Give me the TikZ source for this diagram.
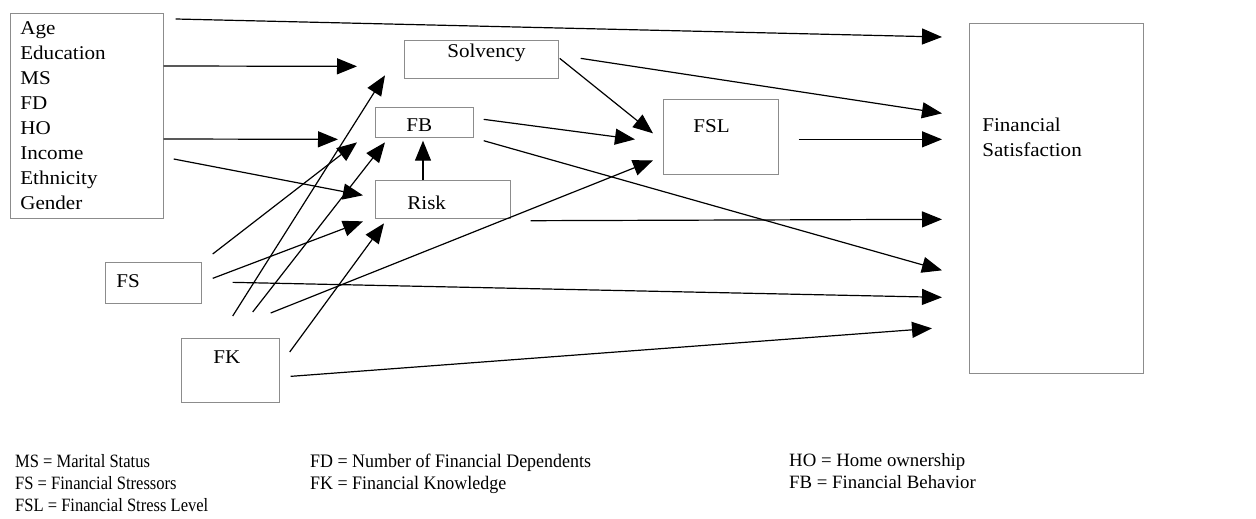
\documentclass[tikz,border=0pt]{standalone}
\usepackage{fontspec}
\setmainfont{Liberation Serif}
\newfontfamily\boxfont[FakeStretch=1.08]{Liberation Serif}
\newfontfamily\legfontA[FakeStretch=0.88]{Liberation Serif}
\newfontfamily\legfontB[FakeStretch=0.94]{Liberation Serif}
\usetikzlibrary{arrows.meta}
\begin{document}
\begin{tikzpicture}[x=1pt,y=-1pt,
  box/.style={draw=black!45, line width=0.7pt, inner sep=0pt, anchor=north west,
    font=\boxfont\fontsize{19.5}{25}\selectfont},
  conn/.style={line width=1.2pt, -{Triangle[length=20pt,width=16pt]}},
  leg/.style={anchor=base west, inner sep=0pt},
  legA/.style={leg, font=\legfontA\fontsize{18.8}{22}\selectfont},
  legB/.style={leg, font=\legfontB\fontsize{19.1}{22}\selectfont},
  legC/.style={leg, font=\rmfamily\fontsize{18.8}{22}\selectfont}
]
\useasboundingbox (0,0) rectangle (1256,519);

% boxes
\node[box, minimum width=153pt, minimum height=205pt, text width=133pt, inner xsep=10pt, align=left] (demo) at (10,13)
  {Age\\Education\\MS\\FD\\HO\\Income\\Ethnicity\\Gender};
\node[box, minimum width=154pt, minimum height=38pt, text height=14pt, text depth=16.8pt] (solv) at (404,40)
  {\makebox[154pt][l]{\hspace*{43pt}Solvency}};
\node[box, minimum width=98pt, minimum height=30pt, text height=20pt, text depth=0.8pt] (fb) at (375,107)
  {\makebox[98pt][l]{\hspace*{31pt}FB}};
\node[box, minimum width=135pt, minimum height=38pt, text height=24pt, text depth=2.8pt] (risk) at (375,180)
  {\makebox[135pt][l]{\hspace*{32pt}Risk}};
\node[box, minimum width=115pt, minimum height=75pt, text height=14pt, text depth=21.8pt] (fsl) at (663,99)
  {\makebox[115pt][l]{\hspace*{30pt}FSL}};
\node[box, minimum width=96pt, minimum height=41pt, text height=14pt, text depth=3.8pt] (fs) at (105,262)
  {\makebox[96pt][l]{\hspace*{11pt}FS}};
\node[box, minimum width=98pt, minimum height=64pt, text height=14pt, text depth=26.8pt] (fk) at (181,338)
  {\makebox[98pt][l]{\hspace*{32pt}FK}};
\node[box, minimum width=174pt, minimum height=350pt, text width=148pt, inner xsep=13pt, align=left,
  text height=14pt, text depth=147pt] (finsat) at (969,23) {Financial\\Satisfaction};

% connectors
\draw[conn] ([shift={(12,6)}]demo.north east) -- ([shift={(-27,14)}]finsat.north west);
\draw[conn] ([shift={(0,53)}]demo.north east) -- ([shift={(-47,7)}]solv.west);
\draw[conn] ([shift={(0,126)}]demo.north east) -- ([shift={(-37,17)}]fb.west);
\draw[conn] ([shift={(10,146)}]demo.north east) -- ([shift={(-12,-4)}]risk.west);
\draw[conn] ([shift={(1,-1)}]solv.east) -- ([shift={(-10,-3.5)}]fsl.west);
\draw[conn] ([shift={(22,-1)}]solv.east) -- ([shift={(-27,-85)}]finsat.west);
\draw[conn] ([shift={(10,-3)}]fb.east) -- ([shift={(-28,2.5)}]fsl.west);
\draw[conn] ([shift={(10,3)}]fb.south east) -- ([shift={(-27,72)}]finsat.west);
\draw[conn] ([shift={(48,0)}]risk.north west) -- ([shift={(48,3)}]fb.south west);
\draw[conn] ([shift={(20,2.5)}]fsl.east) -- ([shift={(-27,-59)}]finsat.west);
\draw[conn] ([shift={(20,2)}]risk.south east) -- ([shift={(-27,21)}]finsat.west);
\draw[conn] ([shift={(31,-0.5)}]fs.east) -- ([shift={(-27,99)}]finsat.west);
\draw[conn] ([shift={(11,6)}]fk.east) -- ([shift={(-37,130)}]finsat.west);
\draw[conn] ([shift={(-9,-25)}]fk.north east) -- ([shift={(-10,23.5)}]fsl.west);
\draw[conn] ([shift={(11,-8)}]fs.north east) -- ([shift={(-18,20)}]fb.west);
\draw[conn] ([shift={(11,-4.5)}]fs.east) -- ([shift={(-12,22)}]risk.west);
\draw[conn] ([shift={(-47,-22)}]fk.north east) -- ([shift={(-19,16)}]solv.west);
\draw[conn] ([shift={(-27,-26)}]fk.north east) -- ([shift={(10,20)}]fb.west);
\draw[conn] ([shift={(10,14)}]fk.north east) -- ([shift={(9,24)}]risk.west);

% legend
\node[legA] (lgms) at (15,467) {MS = Marital Status};
\node[legA] (lgfs) at (15,489) {FS = Financial Stressors};
\node[legA] (lgfsl) at (15,511) {FSL = Financial Stress Level};
\node[legB] (lgfd) at (310,467) {FD = Number of Financial Dependents};
\node[legB] (lgfk) at (310,489) {FK = Financial Knowledge};
\node[legC] (lgho) at (789,466) {HO = Home ownership};
\node[legC] (lgfb) at (789,488) {FB = Financial Behavior};
\end{tikzpicture}
\end{document}
